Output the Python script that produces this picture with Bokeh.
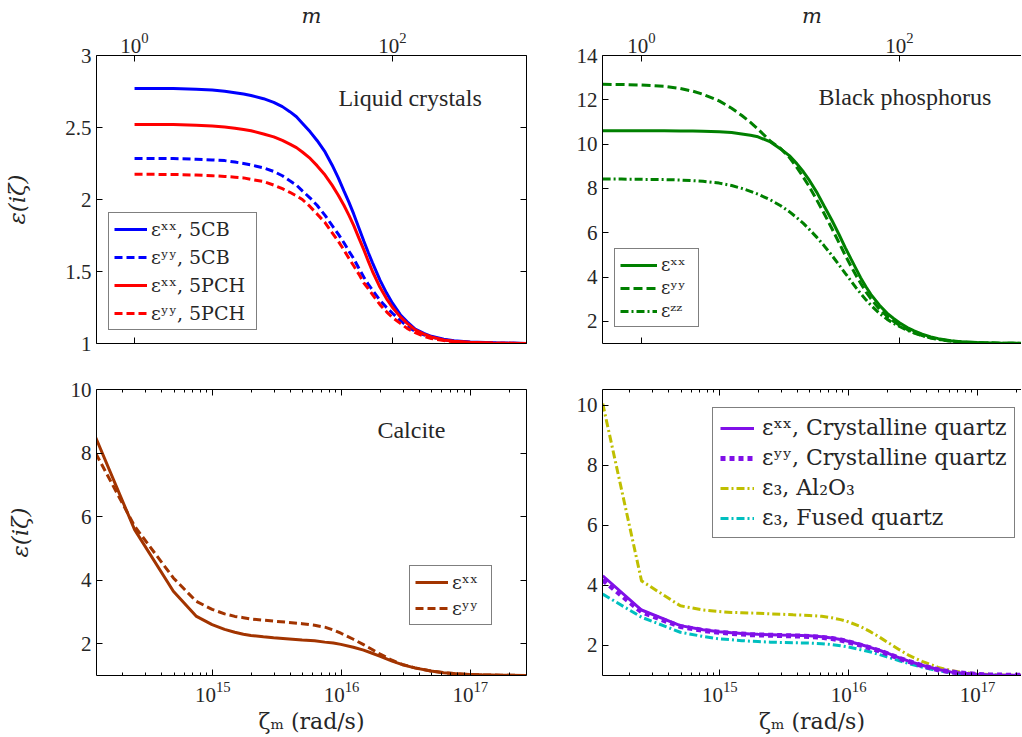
from bokeh.plotting import figure
from bokeh.models import (LinearAxis, LogAxis, FixedTicker, Legend, LegendItem,
                          Label, Range1d, CustomJSTickFormatter)
from bokeh.layouts import column, row
from bokeh.embed import file_html
from bokeh.resources import INLINE

# ---------------- data ----------------
ZETA1 = 2.47e14  # rad/s corresponding to Matsubara index m = 1

# Liquid crystals (vs m)
lc_m = [1, 2, 3, 4, 5, 6, 7, 8, 10, 12, 14, 16, 18, 20, 23, 26, 30, 34, 38, 42, 46, 50,
        55, 60, 65, 70, 80, 90, 100, 115, 130, 150, 175, 200, 250, 300, 400, 600, 1100]
lc_5cb_xx = [2.77, 2.77, 2.765, 2.76, 2.752, 2.742, 2.732, 2.722, 2.70, 2.675, 2.645, 2.61, 2.575,
             2.53, 2.47, 2.41, 2.33, 2.24, 2.15, 2.06, 1.98, 1.90, 1.80, 1.71, 1.63, 1.56,
             1.44, 1.35, 1.28, 1.20, 1.15, 1.10, 1.07, 1.05, 1.03, 1.02, 1.01, 1.005, 1.0]
lc_5cb_yy = [2.285, 2.284, 2.28, 2.275, 2.27, 2.26, 2.25, 2.24, 2.22, 2.195, 2.165, 2.13, 2.10,
             2.06, 2.01, 1.96, 1.89, 1.82, 1.76, 1.70, 1.64, 1.59, 1.52, 1.46, 1.41, 1.37,
             1.30, 1.25, 1.21, 1.16, 1.12, 1.085, 1.06, 1.045, 1.025, 1.015, 1.007, 1.003, 1.0]
lc_5pch_xx = [2.52, 2.52, 2.515, 2.51, 2.503, 2.495, 2.486, 2.477, 2.455, 2.435, 2.41, 2.385, 2.36,
              2.33, 2.285, 2.235, 2.17, 2.10, 2.03, 1.96, 1.89, 1.82, 1.73, 1.65, 1.57, 1.50,
              1.39, 1.31, 1.25, 1.185, 1.14, 1.095, 1.065, 1.045, 1.025, 1.015, 1.008, 1.003, 1.0]
lc_5pch_yy = [2.175, 2.174, 2.17, 2.165, 2.16, 2.155, 2.15, 2.14, 2.125, 2.10, 2.075, 2.05, 2.025,
              2.00, 1.95, 1.90, 1.84, 1.77, 1.71, 1.65, 1.59, 1.54, 1.48, 1.42, 1.38, 1.34,
              1.27, 1.22, 1.18, 1.14, 1.105, 1.075, 1.05, 1.035, 1.02, 1.012, 1.006, 1.002, 1.0]

# Black phosphorus (vs m)
bp_m = [0.5, 0.7, 1, 1.5, 2, 2.5, 3, 4, 5, 6, 7, 8, 10, 12, 14, 16, 18, 20, 23, 26, 30, 34,
        38, 42, 46, 50, 55, 60, 70, 80, 90, 100, 115, 130, 150, 175, 200, 250, 300, 400, 600, 900]
bp_xx = [10.60, 10.60, 10.60, 10.60, 10.595, 10.59, 10.58, 10.56, 10.52, 10.46, 10.40, 10.33,
         10.10, 9.78, 9.48, 9.12, 8.75, 8.37, 7.80, 7.22, 6.55, 5.92, 5.33, 4.83, 4.38, 3.97,
         3.56, 3.22, 2.73, 2.37, 2.13, 1.94, 1.72, 1.57, 1.42, 1.30, 1.22, 1.13, 1.08, 1.04,
         1.015, 1.005]
bp_yy = [12.70, 12.69, 12.67, 12.61, 12.51, 12.39, 12.25, 11.95, 11.62, 11.29, 10.98, 10.68,
         10.13, 9.80, 9.40, 8.95, 8.50, 8.08, 7.45, 6.88, 6.18, 5.55, 4.98, 4.50, 4.08, 3.72,
         3.33, 3.02, 2.55, 2.23, 2.00, 1.83, 1.63, 1.49, 1.36, 1.26, 1.19, 1.11, 1.07, 1.035,
         1.012, 1.004]
bp_zz = [8.42, 8.42, 8.41, 8.40, 8.38, 8.35, 8.32, 8.24, 8.13, 8.00, 7.87, 7.74, 7.48, 7.22,
         6.95, 6.68, 6.42, 6.15, 5.78, 5.42, 4.97, 4.55, 4.17, 3.83, 3.52, 3.26, 2.97, 2.73,
         2.36, 2.10, 1.91, 1.77, 1.60, 1.47, 1.35, 1.25, 1.18, 1.10, 1.065, 1.03, 1.01, 1.004]

# Calcite (vs zeta_m = ZETA1 * m)
ca_m = [0.5, 1, 2, 3, 4, 5, 6, 7, 8, 10, 12, 15, 20, 25, 30, 35, 40, 50, 60, 70, 80, 100,
        120, 150, 200, 250, 300, 400, 500, 700, 1100]
ca_xx = [8.48, 5.59, 3.65, 2.87, 2.60, 2.45, 2.36, 2.30, 2.26, 2.22, 2.19, 2.16, 2.12, 2.09,
         2.05, 2.02, 1.98, 1.89, 1.80, 1.70, 1.61, 1.45, 1.34, 1.24, 1.14, 1.09, 1.06, 1.03,
         1.02, 1.01, 1.0]
ca_yy = [7.99, 5.70, 4.07, 3.34, 3.08, 2.94, 2.86, 2.82, 2.78, 2.74, 2.71, 2.68, 2.63, 2.58,
         2.52, 2.43, 2.33, 2.14, 1.97, 1.82, 1.68, 1.48, 1.35, 1.24, 1.14, 1.09, 1.06, 1.03,
         1.02, 1.01, 1.0]

# Quartz / Al2O3 (vs zeta_m = ZETA1 * m)
qz_m = [0.5, 1, 2, 3, 4, 5, 6, 7, 8, 10, 12, 15, 20, 25, 30, 35, 40, 50, 60, 70, 80, 100,
        120, 150, 200, 250, 300, 400, 500, 700, 1100]
cq_xx = [4.32, 3.18, 2.66, 2.52, 2.46, 2.42, 2.40, 2.38, 2.37, 2.36, 2.35, 2.34, 2.32, 2.29,
         2.25, 2.20, 2.14, 2.03, 1.93, 1.84, 1.75, 1.59, 1.47, 1.34, 1.20, 1.12, 1.08, 1.04,
         1.02, 1.01, 1.0]
cq_yy = [4.18, 3.12, 2.63, 2.50, 2.44, 2.40, 2.38, 2.36, 2.35, 2.34, 2.33, 2.32, 2.30, 2.27,
         2.23, 2.18, 2.12, 2.01, 1.91, 1.82, 1.73, 1.57, 1.46, 1.33, 1.19, 1.12, 1.08, 1.04,
         1.02, 1.01, 1.0]
al2o3 = [10.05, 4.15, 3.32, 3.18, 3.13, 3.10, 3.09, 3.08, 3.07, 3.05, 3.04, 3.02, 3.00, 2.97,
         2.92, 2.86, 2.79, 2.63, 2.45, 2.28, 2.12, 1.86, 1.66, 1.47, 1.27, 1.17, 1.11, 1.05,
         1.03, 1.01, 1.0]
fused = [3.71, 2.94, 2.44, 2.30, 2.22, 2.19, 2.16, 2.14, 2.13, 2.11, 2.10, 2.09, 2.08, 2.06,
         2.03, 1.99, 1.95, 1.86, 1.78, 1.70, 1.62, 1.49, 1.39, 1.28, 1.16, 1.10, 1.06, 1.03,
         1.015, 1.005, 1.0]

# tick positions
m_ticks = [1, 100]
zeta_ticks = [1e15, 1e16, 1e17]
zeta_minor = [k * 10.0 ** d for d in (14, 15, 16, 17) for k in range(2, 10)]
lc_yticks = [1, 1.5, 2, 2.5, 3]
bp_yticks = [2, 4, 6, 8, 10, 12, 14]
bot_yticks = [2, 4, 6, 8, 10]

TIMES = "'Liberation Serif', 'Times New Roman', Times, serif"
CM = "DejaVu Serif"
TXT = "#262626"


def style(ax, ticks, minor=None, labels=True):
    ax.ticker = FixedTicker(ticks=ticks, minor_ticks=minor or [])
    ax.axis_line_color = "black"
    ax.axis_line_width = 1
    ax.major_tick_line_color = "black"
    ax.minor_tick_line_color = "black"
    ax.major_tick_in = 6
    ax.major_tick_out = 0
    ax.minor_tick_in = 3
    ax.minor_tick_out = 0
    ax.major_label_text_font = TIMES
    ax.major_label_text_font_size = "21px"
    ax.major_label_text_color = TXT
    if not labels:
        ax.formatter = CustomJSTickFormatter(code="return ''")
        ax.major_label_standoff = 0
    return ax


def panel(xr, yr, fw, fh, bl, br, bt, bb, top):
    p = figure(x_axis_type="log", x_range=Range1d(*xr), y_range=Range1d(*yr),
               frame_width=fw, frame_height=fh,
               min_border_left=bl, min_border_right=br,
               min_border_top=bt, min_border_bottom=bb,
               x_axis_location="above" if top else "below",
               output_backend="svg", toolbar_location=None)
    p.xgrid.visible = False
    p.ygrid.visible = False
    p.outline_line_color = None
    p.background_fill_color = "white"
    p.border_fill_color = "white"
    return p


def make_legend(p, items, loc, font_size, glyph_w, glyph_h, spacing, pad, label_w, standoff=4):
    lg = Legend(items=items, location=loc)
    lg.label_text_font = CM
    lg.label_text_font_size = font_size
    lg.label_text_color = TXT
    lg.glyph_width = glyph_w
    lg.glyph_height = glyph_h
    lg.label_height = glyph_h
    lg.label_width = label_w
    lg.label_standoff = standoff
    lg.spacing = spacing
    lg.padding = pad
    lg.margin = 0
    lg.border_line_color = "black"
    lg.border_line_width = 1
    lg.background_fill_color = "white"
    lg.background_fill_alpha = 1.0
    p.add_layout(lg)


def ylabel(ax, standoff):
    ax.axis_label = "ε(iζ)"
    ax.axis_label_text_font = CM
    ax.axis_label_text_font_style = "italic"
    ax.axis_label_text_font_size = "23px"
    ax.axis_label_text_color = TXT
    ax.axis_label_standoff = standoff


def xlabel_m(ax):
    ax.axis_label = "m"
    ax.axis_label_text_font = CM
    ax.axis_label_text_font_style = "italic"
    ax.axis_label_text_font_size = "21px"
    ax.axis_label_text_color = TXT
    ax.axis_label_standoff = 2
    ax.major_label_standoff = 3


def xlabel_z(ax):
    ax.axis_label = "ζₘ (rad/s)"
    ax.axis_label_text_font = CM
    ax.axis_label_text_font_style = "normal"
    ax.axis_label_text_font_size = "22px"
    ax.axis_label_text_color = TXT
    ax.axis_label_standoff = 4
    ax.major_label_standoff = 6


num_fmt = "return String(tick)"

# ---------------- top-left: liquid crystals ----------------
p1 = panel((0.507, 1094), (1, 3), 430, 288, 96, 10, 54, 14, True)
style(p1.xaxis[0], m_ticks)
xlabel_m(p1.xaxis[0])
style(p1.yaxis[0], lc_yticks)
p1.yaxis[0].formatter = CustomJSTickFormatter(code=num_fmt)
ylabel(p1.yaxis[0], 32)
p1.add_layout(style(LogAxis(), m_ticks, labels=False), "below")
p1.add_layout(style(LinearAxis(), lc_yticks, labels=False), "right")

r1 = p1.line(lc_m, lc_5cb_xx, color="#0000ff", line_width=3)
r2 = p1.line(lc_m, lc_5cb_yy, color="#0000ff", line_width=3, line_dash="8 4")
r3 = p1.line(lc_m, lc_5pch_xx, color="#ff0000", line_width=3)
r4 = p1.line(lc_m, lc_5pch_yy, color="#ff0000", line_width=3, line_dash="8 4")
make_legend(p1, [LegendItem(label="εˣˣ, 5CB", renderers=[r1]),
                 LegendItem(label="εʸʸ, 5CB", renderers=[r2]),
                 LegendItem(label="εˣˣ, 5PCH", renderers=[r3]),
                 LegendItem(label="εʸʸ, 5PCH", renderers=[r4])],
            (12, 13), "19px", 33, 20, 6, 5, 100)
p1.add_layout(Label(x=38.1, y=2.703, text="Liquid crystals", text_font=TIMES,
                    text_font_size="24px", text_color=TXT, text_baseline="alphabetic"))

# ---------------- top-right: black phosphorus ----------------
p2 = panel((0.499, 883), (1, 14), 419, 288, 66, 0, 54, 14, True)
style(p2.xaxis[0], m_ticks)
xlabel_m(p2.xaxis[0])
style(p2.yaxis[0], bp_yticks)
p2.yaxis[0].formatter = CustomJSTickFormatter(code=num_fmt)
p2.add_layout(style(LogAxis(), m_ticks, labels=False), "below")

g = "#008000"
s1 = p2.line(bp_m, bp_xx, color=g, line_width=3)
s2 = p2.line(bp_m, bp_yy, color=g, line_width=3, line_dash="9 4")
s3 = p2.line(bp_m, bp_zz, color=g, line_width=3, line_dash="8 3 2 3")
make_legend(p2, [LegendItem(label="εˣˣ", renderers=[s1]),
                 LegendItem(label="εʸʸ", renderers=[s2]),
                 LegendItem(label="εᶻᶻ", renderers=[s3])],
            (12, 16), "18px", 37, 18, 2, 5, 32)
p2.add_layout(Label(x=23.6, y=12.12, text="Black phosphorus", text_font=TIMES,
                    text_font_size="24px", text_color=TXT, text_baseline="alphabetic"))

# ---------------- bottom-left: calcite ----------------
p3 = panel((1.25e14, 2.73e17), (1, 10), 430, 286, 96, 10, 32, 60, False)
style(p3.xaxis[0], zeta_ticks, zeta_minor)
xlabel_z(p3.xaxis[0])
style(p3.yaxis[0], bot_yticks)
p3.yaxis[0].formatter = CustomJSTickFormatter(code=num_fmt)
ylabel(p3.yaxis[0], 35)
p3.add_layout(style(LogAxis(), zeta_ticks, zeta_minor, labels=False), "above")
p3.add_layout(style(LinearAxis(), bot_yticks, labels=False), "right")

ca_z = [ZETA1 * m for m in ca_m]
brown = "#a23400"
c1 = p3.line(ca_z, ca_xx, color=brown, line_width=3)
c2 = p3.line(ca_z, ca_yy, color=brown, line_width=3, line_dash="8 4")
make_legend(p3, [LegendItem(label="εˣˣ", renderers=[c1]),
                 LegendItem(label="εʸʸ", renderers=[c2])],
            (313, 50), "19px", 33, 18, 4, 5, 34)
p3.add_layout(Label(x=1.90e16, y=8.73, text="Calcite", text_font=TIMES,
                    text_font_size="24px", text_color=TXT, text_baseline="alphabetic"))

# ---------------- bottom-right: quartz / Al2O3 ----------------
p4 = panel((1.23e14, 2.19e17), (1, 10.52), 419, 286, 66, 0, 32, 60, False)
style(p4.xaxis[0], zeta_ticks, zeta_minor)
xlabel_z(p4.xaxis[0])
style(p4.yaxis[0], bot_yticks)
p4.yaxis[0].formatter = CustomJSTickFormatter(code=num_fmt)
p4.add_layout(style(LogAxis(), zeta_ticks, zeta_minor, labels=False), "above")

qz_z = [ZETA1 * m for m in qz_m]
purple = "#8010e8"
q3 = p4.line(qz_z, al2o3, color="#bfbf00", line_width=3, line_dash="8 3 2 3")
q4 = p4.line(qz_z, fused, color="#00bfbf", line_width=3, line_dash="8 3 2 3")
q1 = p4.line(qz_z, cq_xx, color=purple, line_width=3)
q2 = p4.line(qz_z, cq_yy, color=purple, line_width=5, line_dash="5 4")
make_legend(p4, [LegendItem(label="εˣˣ, Crystalline quartz", renderers=[q1]),
                 LegendItem(label="εʸʸ, Crystalline quartz", renderers=[q2]),
                 LegendItem(label="ε₃, Al₂O₃", renderers=[q3]),
                 LegendItem(label="ε₃, Fused quartz", renderers=[q4])],
            (110, 137), "22px", 34, 22, 5, 7, 245, standoff=8)

layout = column(row(p1, p2), row(p3, p4))

with open("out.html", "w") as f:
    f.write(file_html(layout, INLINE))
